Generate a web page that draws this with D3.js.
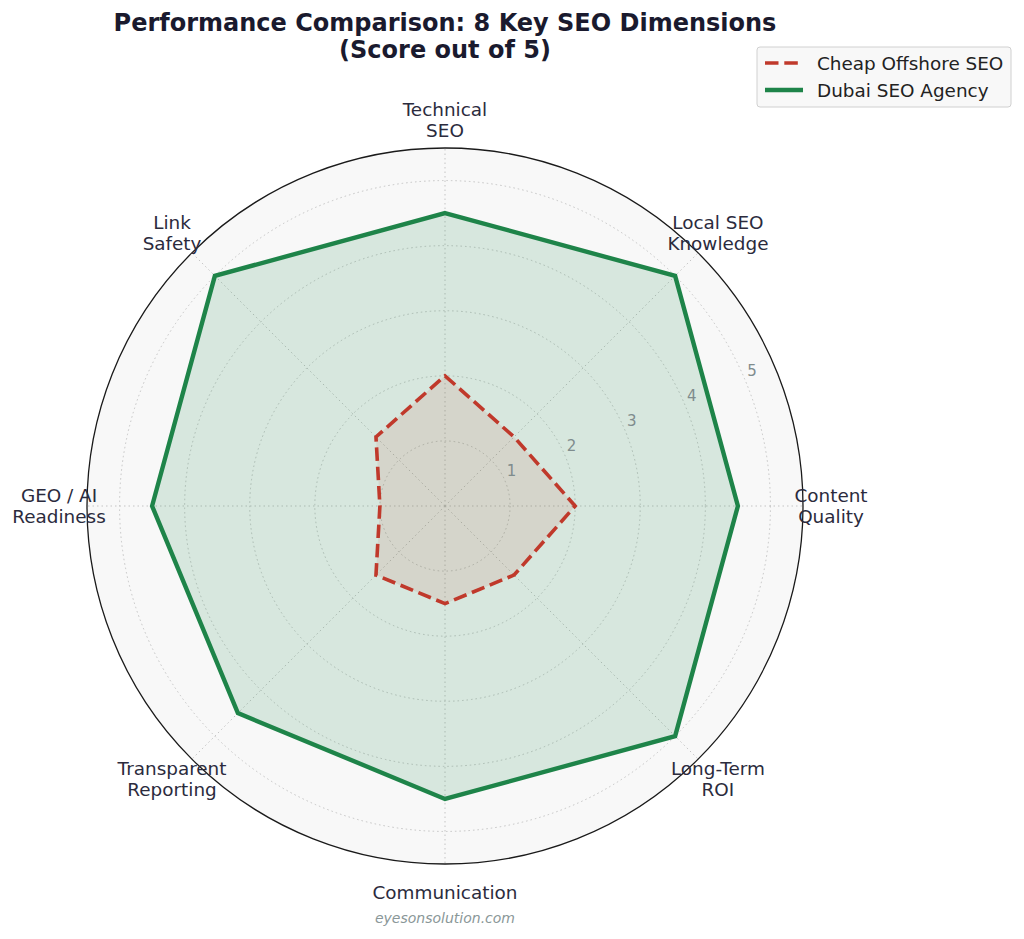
<!DOCTYPE html>
<html>
<head>
<meta charset="utf-8">
<script src="https://cdn.jsdelivr.net/npm/d3@7"></script>
<style>
  html, body { margin: 0; padding: 0; background: #ffffff; }
  svg { display: block; font-family: "DejaVu Sans", sans-serif; }
</style>
</head>
<body>
<svg id="chart" width="1024" height="939"></svg>
<script>
const categories = ["Technical\nSEO", "Local SEO\nKnowledge", "Content\nQuality", "Long-Term\nROI",
  "Communication", "Transparent\nReporting", "GEO / AI\nReadiness", "Link\nSafety"];
const cheapScores = [2, 1.5, 2, 1.5, 1.5, 1.5, 1, 1.5];
const dubaiScores = [4.5, 5, 4.5, 5, 4.5, 4.5, 4.5, 5];
const radialTicks = [1, 2, 3, 4, 5];
const seriesNames = ["Cheap Offshore SEO", "Dubai SEO Agency"];
const titleLines = ["Performance Comparison: 8 Key SEO Dimensions", "(Score out of 5)"];
const footer = "eyesonsolution.com";

const svg = d3.select("#chart");
const cx = 445, cy = 506, R = 358;
const r = d3.scaleLinear().domain([0, 5.5]).range([0, R]);
const angle = d3.scaleLinear().domain([0, categories.length]).range([0, 2 * Math.PI]);
const px = (i, v) => cx + r(v) * Math.sin(angle(i));
const py = (i, v) => cy - r(v) * Math.cos(angle(i));

const g = svg.append("g");
// background
g.append("circle").attr("cx", cx).attr("cy", cy).attr("r", R).attr("fill", "#f8f8f8");

// grid circles
g.selectAll(".gc").data(radialTicks).join("circle")
  .attr("cx", cx).attr("cy", cy).attr("r", d => r(d))
  .attr("fill", "none").attr("stroke", "#c4c4c4").attr("stroke-width", 1)
  .attr("stroke-dasharray", "1.5,3");
// radial lines
g.selectAll(".gl").data(categories).join("line")
  .attr("x1", cx).attr("y1", cy)
  .attr("x2", (d, i) => px(i, 5.5)).attr("y2", (d, i) => py(i, 5.5))
  .attr("stroke", "#c4c4c4").attr("stroke-width", 1).attr("stroke-dasharray", "1.5,3");

const line = d3.lineRadial().angle((d, i) => angle(i)).radius(d => r(d)).curve(d3.curveLinearClosed);

const lay = g.append("g").attr("transform", `translate(${cx},${cy})`);
// Dubai
lay.append("path").datum(dubaiScores).attr("d", line)
  .attr("fill", "#1e8449").attr("fill-opacity", 0.15).attr("stroke", "none");
// Cheap
lay.append("path").datum(cheapScores).attr("d", line)
  .attr("fill", "#c0392b").attr("fill-opacity", 0.1).attr("stroke", "none");
lay.append("path").datum(dubaiScores).attr("d", line)
  .attr("fill", "none").attr("stroke", "#1e8449").attr("stroke-width", 4.4).attr("stroke-linejoin", "miter");
lay.append("path").datum(cheapScores).attr("d", line)
  .attr("fill", "none").attr("stroke", "#c0392b").attr("stroke-width", 3.6)
  .attr("stroke-dasharray", "13.5,5.8");

// outer spine
g.append("circle").attr("cx", cx).attr("cy", cy).attr("r", R)
  .attr("fill", "none").attr("stroke", "#1a1a1a").attr("stroke-width", 1.3);

// tick labels
const tickAng = angle(1.5);
g.selectAll(".tl").data(radialTicks).join("text")
  .attr("x", d => cx + r(d) * Math.sin(tickAng) + 1.5)
  .attr("y", d => cy - r(d) * Math.cos(tickAng) - 5)
  .attr("font-size", 15).attr("fill", "#7f8c8d")
  .text(d => d);

// category labels
const labelR = 386;
categories.forEach((c, i) => {
  const lines = c.split("\n");
  const x = cx + labelR * Math.sin(angle(i));
  const y = cy - labelR * Math.cos(angle(i));
  const lh = 21.5;
  const t = g.append("text").attr("text-anchor", "middle").attr("font-size", 18.4).attr("fill", "#2b2b3d");
  lines.forEach((l, k) => {
    t.append("tspan").attr("x", x)
      .attr("y", y + (k - (lines.length - 1) / 2) * lh + 6.6).text(l);
  });
});

// title
svg.append("text").attr("text-anchor", "middle").attr("font-size", 24).attr("font-weight", "bold")
  .attr("fill", "#1a1a2e")
  .selectAll("tspan").data(titleLines).join("tspan")
  .attr("x", 445).attr("y", (d, i) => 31 + i * 26.5).text(d => d);

// legend
const lg = svg.append("g");
lg.append("rect").attr("x", 757).attr("y", 47).attr("width", 254).attr("height", 60).attr("rx", 3)
  .attr("fill", "#f7f7f7").attr("fill-opacity", 0.9).attr("stroke", "#d0d0d0").attr("stroke-width", 1);
const legY = [63, 90];
lg.append("line").attr("x1", 765).attr("x2", 803).attr("y1", legY[0]).attr("y2", legY[0])
  .attr("stroke", "#c0392b").attr("stroke-width", 3.6).attr("stroke-dasharray", "13.5,5.8");
lg.append("line").attr("x1", 765).attr("x2", 803).attr("y1", legY[1]).attr("y2", legY[1])
  .attr("stroke", "#1e8449").attr("stroke-width", 4.4);
lg.selectAll(".lt").data(seriesNames).join("text")
  .attr("x", 817).attr("y", (d, i) => legY[i] + 6.6)
  .attr("font-size", 18.4).attr("fill", "#222").text(d => d);

// footer
svg.append("text").attr("x", 445).attr("y", 923).attr("text-anchor", "middle")
  .attr("font-size", 14).attr("font-style", "italic").attr("fill", "#8a9798").text(footer);
</script>
</body>
</html>
